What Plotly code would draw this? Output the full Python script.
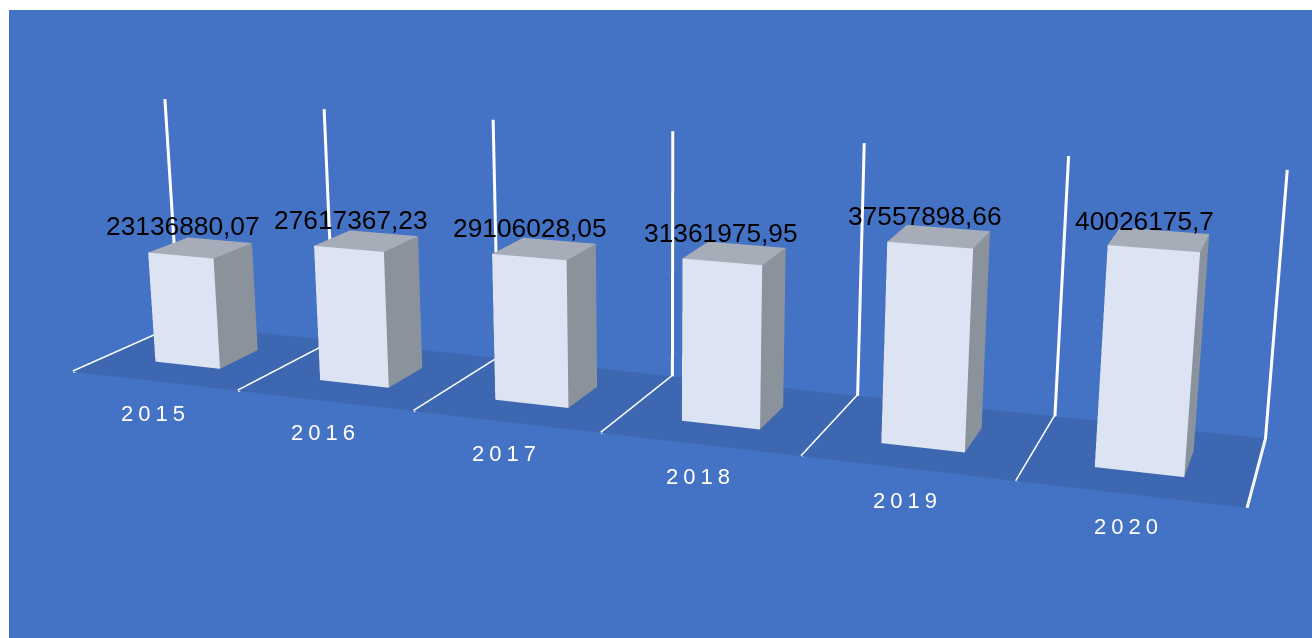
import plotly.graph_objects as go

# Chart data
years = ["2015", "2016", "2017", "2018", "2019", "2020"]
values = [23136880.07, 27617367.23, 29106028.05, 31361975.95, 37557898.66, 40026175.7]
value_labels = ["23136880,07", "27617367,23", "29106028,05", "31361975,95", "37557898,66", "40026175,7"]
axis_max = 50000000

# Bar footprint inside each category slot and inside the floor depth
bar_x = (0.30, 0.70)
bar_y = (0.31, 0.69)

# Pixel offsets of the value labels from the front top edge of their bars
label_dx = [2, 2, 1, -1, -5, -9]
label_dy = [30, 29, 29, 29, 29, 28]
# Pixel offsets of the year labels from the front floor edge
year_dx = [1, 1, 1, 1, 0, -1]

# Lean of the 3D box, which keeps its verticals nearly upright on screen
lean_xy, lean_xz, lean_yz = 0.29042, -0.10834, 1.36324

COL_BG, COL_FLOOR = "#4472c4", "#3d68b1"
COL_FRONT, COL_TOP, COL_SIDE = "#dce3f2", "#a6adb9", "#8a929c"
FLAT = dict(ambient=1, diffuse=0, specular=0, fresnel=0)


def px(x, y, z):
    return x + lean_xy * y + lean_xz * z / axis_max


def py(y, z):
    return y + lean_yz * z / axis_max


fig = go.Figure()

# Floor
floor = [(0, 0), (0, 1), (6, 0), (6, 1)]
fig.add_trace(go.Mesh3d(
    x=[px(a, b, 0) for a, b in floor], y=[py(b, 0) for a, b in floor], z=[0] * 4,
    i=[0, 1], j=[1, 3], k=[2, 2], color=COL_FLOOR, lighting=FLAT, flatshading=True,
    hoverinfo="skip", showscale=False,
))

# Bars
vx, vy, vz, ii, jj, kk, colors = [], [], [], [], [], [], []
faces = [((0, 1, 3, 2), COL_FRONT), ((1, 5, 7, 3), COL_SIDE), ((2, 3, 7, 6), COL_TOP),
         ((0, 4, 6, 2), COL_SIDE), ((4, 5, 7, 6), COL_SIDE)]
for n, v in enumerate(values):
    base = len(vx)
    for yy in bar_y:
        for zz in (0, v):
            for xx in bar_x:
                vx.append(px(n + xx, yy, zz))
                vy.append(py(yy, zz))
                vz.append(zz)
    for f, col in faces:
        ii += [base + f[0], base + f[0]]
        jj += [base + f[1], base + f[2]]
        kk += [base + f[2], base + f[3]]
        colors += [col, col]
fig.add_trace(go.Mesh3d(
    x=vx, y=vy, z=vz, i=ii, j=jj, k=kk, facecolor=colors, lighting=FLAT, flatshading=True,
    hoverinfo="skip", showscale=False,
))

# Category dividers: along the floor, then up the back wall
lx, ly, lz = [], [], []
for n in range(len(years) + 1):
    lx += [px(n, 0, 0), px(n, 1, 0), px(n, 1, axis_max), None]
    ly += [py(0, 0), py(1, 0), py(1, axis_max), None]
    lz += [0, 0, axis_max, None]
fig.add_trace(go.Scatter3d(x=lx, y=ly, z=lz, mode="lines", line=dict(color="white", width=6),
                           hoverinfo="skip", showlegend=False))

# Value labels over the bars, year labels under the floor
annotations = []
for n, (v, label, year) in enumerate(zip(values, value_labels, years)):
    xc = n + sum(bar_x) / 2
    annotations.append(dict(x=px(xc, bar_y[0], v), y=py(bar_y[0], v), z=v, text=label, showarrow=False,
                            xshift=label_dx[n], yshift=label_dy[n],
                            font=dict(family="Liberation Sans", size=26.3, color="black")))
    annotations.append(dict(x=px(n + 0.5, 0, 0), y=py(0, 0), z=0, text=year, showarrow=False,
                            xshift=year_dx[n], yshift=-32,
                            font=dict(family="Liberation Sans", size=22, color="white")))

x_range, y_range, z_range = [-2, 9], [-2, 4], [-0.1 * axis_max, 1.2 * axis_max]
hidden = lambda r: dict(visible=False, range=r, autorange=False)
fig.update_layout(
    width=1312, height=638, margin=dict(l=0, r=0, t=0, b=0), paper_bgcolor="white", showlegend=False,
    scene=dict(
        domain=dict(x=[9 / 1312, 1], y=[0, 628 / 638]), bgcolor=COL_BG,
        aspectmode="manual", aspectratio=dict(x=4.4, y=1.18049, z=0.59105),
        xaxis=hidden(x_range), yaxis=hidden(y_range), zaxis=hidden(z_range),
        annotations=annotations,
        camera=dict(projection=dict(type="perspective"),
                    eye=dict(x=0.09325, y=-1.26129, z=0.83792),
                    center=dict(x=-0.10101, y=-0.05838, z=-0.06592),
                    up=dict(x=-0.09499, y=0.58814, z=0.80316)),
    ),
)
fig.write_html(
    "out.html", config=dict(displayModeBar=False),
    post_script="document.head.insertAdjacentHTML('beforeend',"
                "'<style>text[data-unformatted^=\"20\"]{letter-spacing:5px}</style>');",
)
